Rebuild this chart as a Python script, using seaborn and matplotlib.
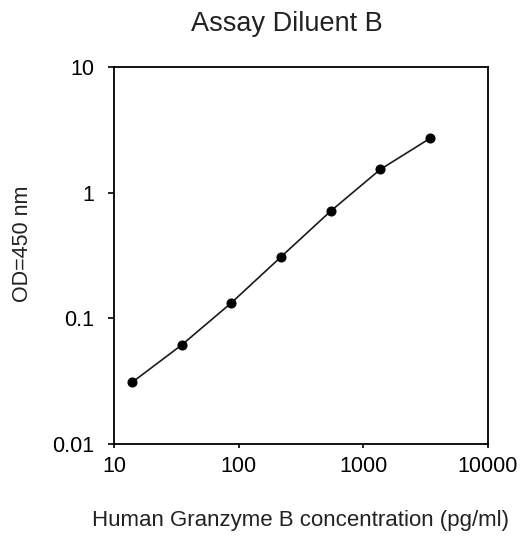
import numpy as np
import pandas as pd
import matplotlib
matplotlib.use("Agg")
import matplotlib.pyplot as plt
import seaborn as sns

# Datos de la curva estandar
concentration = [14.0, 35.0, 87.5, 219, 547, 1367, 3417]
od_450 = [0.031, 0.0615, 0.133, 0.309, 0.713, 1.53, 2.70]
x_ticks = [10, 100, 1000, 10000]
x_tick_labels = ["10", "100", "1000", "10000"]
y_ticks = [0.01, 0.1, 1, 10]
y_tick_labels = ["0.01", "0.1", "1", "10"]

df = pd.DataFrame({"conc": concentration, "od": od_450})

sns.set_style("ticks")
plt.rcParams["font.family"] = ["Liberation Sans", "DejaVu Sans"]

fig = plt.figure(figsize=(5.3, 5.36), dpi=100)
ax = fig.add_axes([114 / 530, 1 - 444 / 536, 374 / 530, 377 / 536])

sns.lineplot(data=df, x="conc", y="od", ax=ax, color="#1a1a1a", linewidth=1.2,
             marker="o", markersize=6.5, markeredgecolor="black",
             markerfacecolor="black")

ax.set_xscale("log")
ax.set_yscale("log")
ax.set_xlim(10, 10000)
ax.set_ylim(0.01, 10)
ax.set_xticks(x_ticks)
ax.set_xticklabels(x_tick_labels)
ax.set_yticks(y_ticks)
ax.set_yticklabels(y_tick_labels)
ax.minorticks_off()

for s in ax.spines.values():
    s.set_visible(True)
    s.set_color("black")
    s.set_linewidth(1.3)

ax.tick_params(axis="x", direction="out", length=3, width=1.2, pad=6,
               labelsize=15.5, colors="black")
ax.tick_params(axis="y", direction="out", length=4, width=1.2, pad=10,
               labelsize=15.5, colors="black")

ax.set_xlabel("Human Granzyme B concentration (pg/ml)", fontsize=16,
              color="#222222")
ax.set_ylabel("OD=450 nm", fontsize=15.5, color="#222222")
ax.xaxis.set_label_coords(0.5, -0.175)
ax.yaxis.set_label_coords(-0.217, 0.53)
ax.set_title("Assay Diluent B", fontsize=19.5, color="#222222", pad=26, x=0.463)

fig.savefig("out.png", dpi=100)
